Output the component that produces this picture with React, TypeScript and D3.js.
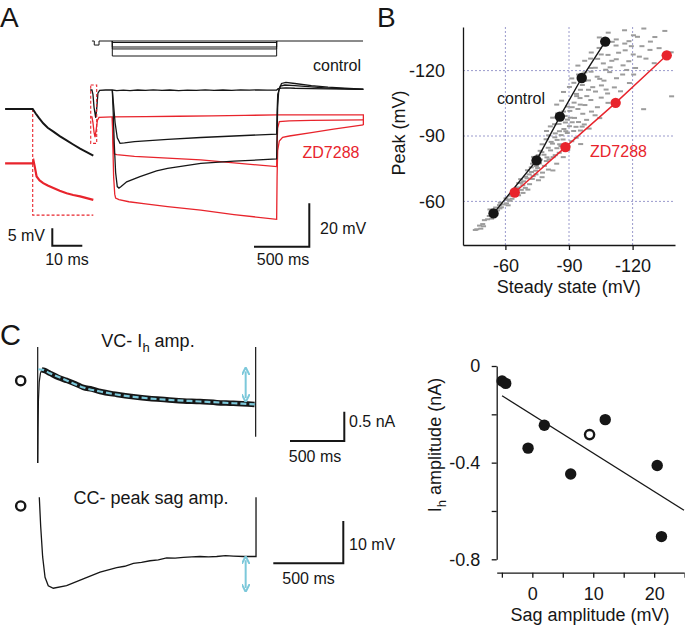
import React, { useEffect, useRef } from 'react'
import * as d3 from 'd3'

// ---------------- panel A ----------------
// command protocol: time (ms from step onset), level (relative units)
const cmdHolding = [[-184, 0], [-163, 0], [-163, -0.27], [-120, -0.27], [-120, 0], [2267, 0]]
const cmdStepLevels = [-0.1, -0.4, -0.53, -1]
const cmdStepEnd = 1486

// voltage traces: [time ms, mV]
const ctrlSmall = [[-200, -60], [-184, -60], [-175, -62], [-165, -68], [-150, -72.8], [-140, -68], [-130, -61.5], [-115, -60.2], [-60, -60], [0, -60],
  [40, -60.3], [100, -60.1], [160, -60.3], [230, -60], [300, -60.2], [370, -59.9], [450, -60.2], [520, -60], [600, -60.3], [680, -60.1],
  [760, -60.2], [840, -59.9], [920, -60.2], [1000, -60], [1080, -60.2], [1160, -59.9], [1240, -60.1], [1320, -59.9], [1400, -60.1],
  [1486, -60], [1500, -59.4], [1530, -59.1], [1570, -59.0], [1650, -59.2], [1800, -59.4], [1950, -59.5], [2100, -59.6], [2270, -59.7]]
const ctrlMid = [[0, -60], [10, -66], [25, -75], [45, -82], [70, -84.6], [110, -84.4], [200, -83.8], [500, -82.8], [800, -81.9], [1100, -81.2],
  [1486, -80.3], [1490, -70], [1496, -62], [1520, -58.2], [1560, -57.7], [1650, -58], [1800, -58.6], [1950, -59.1], [2100, -59.4], [2270, -59.7]]
const ctrlBig = [[0, -60], [8, -70], [18, -85], [30, -98], [45, -104.5], [60, -105.2], [80, -104.5], [130, -102.3], [250, -99.9], [400, -97.3],
  [500, -96.1], [800, -93.8], [1100, -92.8], [1486, -91.8], [1490, -80], [1495, -68], [1505, -60], [1530, -57], [1570, -56.5], [1650, -57],
  [1800, -58], [1950, -58.7], [2100, -59.2], [2270, -59.6]]
const zdSmall = [[-200, -72.4], [-184, -72.4], [-175, -75], [-165, -79.5], [-156, -81.7], [-145, -78], [-135, -74], [-120, -72.6], [0, -72.4],
  [300, -72.3], [600, -72.1], [900, -71.9], [1200, -71.7], [1486, -71.5], [1800, -71.5], [2270, -71.5], [2270, -76.1]]
const zdMid = [[0, -72.4], [5, -80], [15, -89.4], [40, -89.8], [200, -90.6], [500, -91.4], [800, -92.2], [1100, -93.6], [1486, -95.3],
  [1490, -85], [1495, -77.5], [1510, -74.6], [1600, -74.2], [1800, -74], [2270, -73.8]]
const zdBig = [[0, -72.4], [5, -85], [12, -100], [22, -108], [30, -109.8], [60, -110.5], [150, -111.5], [300, -112.5], [500, -113.7],
  [800, -115.4], [1100, -117.4], [1486, -119.6], [1490, -100], [1495, -88], [1510, -83.5], [1540, -81.8], [1600, -81.2], [1800, -79.6],
  [2000, -78], [2270, -76.1]]
const testPulseBox = [[-195, -57.7], [-141, -84.6]]

// expanded onset: [time ms, mV relative]
const insetCtrl = [[-9.2, 0], [0, 0], [1, -1.3], [2, -2.5], [3.5, -4.1], [5, -5.4], [6.9, -6.5], [9, -7.8], [11.3, -9], [13.5, -10.2],
  [15.8, -11.4], [18, -12.4], [20.2, -13.4]]
const insetZd = [[-9.2, -15.6], [0, -15.6], [0.3, -15], [0.6, -16.2], [1.3, -19.4], [2.3, -20.5], [3.5, -21.3], [5, -22], [6.9, -22.7],
  [9, -23.5], [11.3, -24.2], [13.5, -24.7], [15.8, -25.1], [18, -25.6], [20.2, -26.1]]
const insetBox = [[0, 0], [20.2, -30.5]]

// ---------------- panel B ----------------
const ctrlSteady = [-54.4, -74.7, -85.7, -96.0, -107.1]
const ctrlPeak = [-54.5, -78.8, -98.9, -116.6, -133.3]
const zdSteady = [-64.4, -88.3, -112.0, -136.1]
const zdPeak = [-64.1, -84.9, -105.2, -127.0]
const bTicks = [-60, -90, -120]
// pooled cells: [steady state, peak]
const pooled = [
  [-46.5, -47.2], [-47.8, -48.9], [-49.3, -49.6], [-50.1, -51.4], [-51.6, -51.8], [-52.4, -53.3], [-53.5, -52.1], [-49.7, -48.6], [-45.8, -46.9], [-48.4, -47.5],
  [-54.8, -55.6], [-56.3, -55.9], [-57.4, -56.8], [-58.1, -57.3], [-59.2, -58.6], [-60.5, -59.1], [-61.3, -58.2], [-57.6, -59.4], [-62.2, -60.3], [-52.7, -56.3], [-54.1, -53.8],
  [-62.4, -62.6], [-63.1, -61.2], [-64.3, -63.5], [-65.6, -64.1], [-66.2, -62.8], [-67.5, -65.3], [-68.3, -63.9], [-65.8, -66.4], [-69.4, -66.2], [-63.7, -65.1], [-61.2, -60.7], [-70.6, -65.4],
  [-66.3, -68.4], [-68.6, -69.2], [-70.2, -70.6], [-71.4, -67.9], [-72.7, -70.3], [-73.1, -71.6], [-69.5, -71.3], [-74.4, -72.4], [-75.6, -69.7], [-67.2, -70.2], [-77.3, -71.1],
  [-70.4, -74.3], [-72.2, -75.6], [-74.6, -76.2], [-76.1, -77.4], [-78.4, -76.3], [-80.3, -74.6], [-77.5, -73.2], [-72.8, -77.3], [-79.3, -78.5], [-82.4, -74.2], [-84.2, -77.3],
  [-73.3, -80.4], [-75.5, -81.2], [-77.2, -82.6], [-79.6, -80.2], [-81.3, -83.4], [-83.5, -81.2], [-85.4, -82.3], [-80.2, -84.6], [-76.4, -83.2], [-87.3, -80.3], [-89.4, -83.6],
  [-77.3, -86.2], [-79.2, -88.5], [-81.6, -87.3], [-83.3, -89.4], [-85.6, -86.2], [-87.2, -88.4], [-89.5, -85.3], [-91.3, -87.6], [-93.4, -89.2], [-80.4, -90.3], [-84.3, -84.4], [-95.5, -86.3],
  [-79.4, -92.3], [-81.2, -94.4], [-83.5, -91.2], [-85.3, -95.5], [-87.6, -93.2], [-89.2, -91.4], [-91.5, -96.3], [-93.3, -94.2], [-95.4, -92.5], [-97.2, -95.3], [-99.5, -93.4], [-86.2, -97.6],
  [-82.3, -98.4], [-84.6, -100.3], [-88.2, -99.2], [-90.4, -101.5], [-92.6, -98.3], [-94.2, -102.4], [-96.5, -100.2], [-98.3, -97.4], [-100.6, -101.2], [-102.3, -99.5], [-104.5, -98.2],
  [-84.2, -104.4], [-86.5, -106.2], [-89.3, -103.5], [-92.4, -105.3], [-95.2, -107.4], [-97.5, -104.2], [-100.3, -106.5], [-103.4, -103.2], [-105.2, -107.6], [-108.4, -105.2], [-93.6, -108.3],
  [-87.4, -110.2], [-90.2, -112.5], [-93.5, -109.3], [-96.3, -113.4], [-99.2, -111.2], [-102.5, -110.4], [-105.3, -113.2], [-108.2, -109.5], [-111.4, -112.3], [-125.2, -102.3], [-138.4, -108.2],
  [-91.3, -116.4], [-94.5, -118.2], [-97.2, -115.3], [-100.4, -119.5], [-103.3, -117.2], [-106.5, -115.4], [-109.2, -119.3], [-112.4, -116.5], [-115.3, -118.2], [-118.5, -114.3],
  [-94.2, -122.3], [-97.4, -124.5], [-100.3, -121.2], [-103.5, -125.4], [-106.2, -123.3], [-109.4, -121.5], [-112.3, -125.2], [-115.5, -122.4], [-118.2, -124.3], [-121.4, -121.2], [-126.3, -125.5], [-130.2, -123.4],
  [-100.5, -128.3], [-104.2, -130.4], [-108.4, -127.2], [-112.2, -131.5], [-116.5, -129.3], [-120.3, -127.4], [-124.4, -131.2], [-128.2, -129.5], [-132.5, -130.3], [-138.2, -128.4],
  [-104.3, -135.2], [-108.5, -137.4], [-112.3, -134.3], [-116.2, -138.5], [-120.4, -136.2], [-125.3, -139.3], [-130.5, -135.4], [-135.2, -138.2], [-128.4, -133.3], [-118.3, -133.5],
  [-71.2, -72.4], [-74.3, -74.1], [-76.5, -79.2], [-78.2, -81.4], [-80.6, -79.3], [-82.2, -86.5], [-84.4, -88.2], [-86.3, -90.4], [-88.5, -92.2], [-90.2, -94.5], [-82.5, -80.3], [-86.2, -85.4],
  [-88.3, -96.2], [-90.6, -98.4], [-92.2, -92.3], [-94.5, -96.4], [-96.2, -94.3], [-85.5, -92.2], [-83.2, -95.4], [-87.4, -101.2], [-89.2, -97.5], [-91.5, -103.2], [-95.3, -104.4],
  [-98.4, -108.3], [-101.2, -112.4], [-104.5, -116.2], [-107.3, -120.4], [-110.2, -124.5], [-113.4, -128.2], [-116.3, -132.4], [-99.2, -115.5], [-102.4, -121.3], [-105.2, -127.4],
  [-119.4, -131.2], [-122.3, -135.5], [-95.4, -111.2], [-92.3, -114.4], [-97.5, -119.2], [-100.2, -125.5], [-110.4, -133.2], [-114.3, -110.5], [-117.2, -120.3], [-120.5, -118.2],
  [-123.2, -126.4], [-107.5, -111.3], [-68.2, -67.4], [-65.4, -66.2], [-72.3, -73.5], [-75.2, -75.3], [-63.5, -64.2], [-60.3, -61.4], [-57.2, -58.3], [-55.4, -57.2], [-67.3, -68.5]
]

// ---------------- panel C ----------------
// VC current trace: [ms, nA]
const vcTrace = [[0, 0], [0, -1.98], [3, -1.4], [7, -0.9], [14, -0.6], [25, -0.45], [37, -0.39], [60, -0.4], [114, -0.45], [190, -0.52],
  [267, -0.57], [350, -0.63], [419, -0.69], [500, -0.72], [575, -0.76], [730, -0.81], [882, -0.85], [1030, -0.88], [1188, -0.9],
  [1340, -0.92], [1495, -0.93], [1650, -0.95], [1802, -0.96], [1997, -0.98], [2007, -0.98], [2007, 0], [2007, -1.53]]
const vcFit = [[5, -0.38], [37, -0.385], [114, -0.45], [267, -0.57], [419, -0.69], [575, -0.76], [882, -0.85], [1188, -0.9], [1495, -0.93],
  [1802, -0.96], [2000, -0.98]]
const vcArrow = [1915, -0.382, -0.906]
// CC voltage trace: [ms, mV]
const ccTrace = [[0, 0], [10, -6.9], [24, -14.1], [41, -18.9], [64, -20.9], [100, -21.5], [195, -20.9], [314, -19.3], [434, -17.7],
  [553, -16.6], [610, -16.3], [672, -15.6], [730, -15.4], [791, -15], [850, -14.8], [910, -14.3], [970, -14.4], [1029, -14.2], [1090, -14.1],
  [1148, -14], [1210, -14.1], [1267, -14], [1330, -13.8], [1386, -13.9], [1460, -14], [1541, -14], [1548, -14], [1548, 0]]
const ccArrow = [1474, -14.4, -21.9]

// sag vs Ih
const sagAmp = [-4.97, -4.37, -0.7, 1.97, 6.3, 11.97, 20.5, 21.2]
const ihAmp = [-0.062, -0.072, -0.34, -0.245, -0.447, -0.222, -0.412, -0.706]
const openSag = 9.4
const openIh = -0.284
const fitSlope = -0.01586
const fitIntercept = -0.202
const fitRange = [-4.97, 24.9]
const sagTicks = [-5, 0, 5, 10, 15, 20, 25]
const sagLabels = [0, 10, 20]
const ihTicks = [0, -0.2, -0.4, -0.6, -0.8]
const ihLabels = [0, -0.4, -0.8]

const FONT = 'Liberation Sans, Arial, Helvetica, sans-serif'
const RED = '#e8242c'
const CYAN = '#7cc8da'
const INK = '#161616'

export default function App() {
  const ref = useRef<SVGSVGElement>(null)

  useEffect(() => {
    const svg = d3.select(ref.current)
    svg.selectAll('*').remove()
    svg.style('font-family', FONT)

    const text = (x: number, y: number, s: string, size: number, anchor = 'start', color = INK) =>
      svg.append('text').attr('x', x).attr('y', y).attr('font-size', size)
        .attr('text-anchor', anchor).attr('fill', color).text(s)

    const bar = (d: string) => svg.append('path').attr('d', d)
      .attr('fill', 'none').attr('stroke', INK).attr('stroke-width', 2)

    // arrow markers
    var defs = svg.append('defs')
    defs.append('marker').attr('id', 'ah').attr('viewBox', '0 0 10 10')
      .attr('refX', 5).attr('refY', 5).attr('markerWidth', 4).attr('markerHeight', 4)
      .attr('orient', 'auto-start-reverse')
      .append('path').attr('d', 'M0,0 L10,5 L0,10').attr('fill', 'none')
      .attr('stroke', CYAN).attr('stroke-width', 2.5)

    // panel letters
    text(0, 27, 'A', 28)
    text(377, 27, 'B', 28)
    text(0, 345, 'C', 29)

    // ===== A =====
    var xA = d3.scaleLinear().domain([0, 500]).range([112.3, 167.6])
    var yA = d3.scaleLinear().domain([-60, -80]).range([90, 133.4])
    var yCmd = d3.scaleLinear().domain([0, -1]).range([41, 56])
    var xI = d3.scaleLinear().domain([0, 10]).range([32.7, 62.7])
    var yI = d3.scaleLinear().domain([0, -5]).range([109, 126.4])

    var cmdLine = d3.line<number[]>().x(d => xA(d[0])).y(d => yCmd(d[1]))
    svg.append('path').attr('d', cmdLine(cmdHolding))
      .attr('fill', 'none').attr('stroke', INK).attr('stroke-width', 1)
    cmdStepLevels.forEach(l => {
      svg.append('path').attr('d', cmdLine([[0, 0], [0, l], [cmdStepEnd, l], [cmdStepEnd, 0]]))
        .attr('fill', 'none').attr('stroke', INK).attr('stroke-width', 1)
    })

    var traceLine = d3.line<number[]>().x(d => xA(d[0])).y(d => yA(d[1]))
    ;[zdSmall, zdMid, zdBig].forEach(t => {
      svg.append('path').attr('d', traceLine(t))
        .attr('fill', 'none').attr('stroke', RED).attr('stroke-width', 1.3)
    })
    ;[ctrlSmall, ctrlMid, ctrlBig].forEach(t => {
      svg.append('path').attr('d', traceLine(t))
        .attr('fill', 'none').attr('stroke', INK).attr('stroke-width', 1.3)
    })
    svg.append('rect')
      .attr('x', xA(testPulseBox[0][0])).attr('y', yA(testPulseBox[0][1]))
      .attr('width', xA(testPulseBox[1][0]) - xA(testPulseBox[0][0]))
      .attr('height', yA(testPulseBox[1][1]) - yA(testPulseBox[0][1]))
      .attr('fill', 'none').attr('stroke', RED).attr('stroke-width', 1.1).attr('stroke-dasharray', '3,2')

    var insetLine = d3.line<number[]>().x(d => xI(d[0])).y(d => yI(d[1]))
    svg.append('path').attr('d', insetLine([[insetBox[0][0], insetBox[0][1]], [insetBox[0][0], insetBox[1][1]], [insetBox[1][0], insetBox[1][1]]]))
      .attr('fill', 'none').attr('stroke', RED).attr('stroke-width', 1.1).attr('stroke-dasharray', '3,2')
    svg.append('path').attr('d', insetLine(insetZd))
      .attr('fill', 'none').attr('stroke', RED).attr('stroke-width', 2.2)
    svg.append('path').attr('d', insetLine(insetCtrl))
      .attr('fill', 'none').attr('stroke', INK).attr('stroke-width', 2)

    text(313, 71, 'control', 16)
    text(302.5, 158, 'ZD7288', 16, 'start', RED)

    // scale bars A
    bar(`M52.3,${245.7 - (yI(-5) - yI(0))} V245.7 H${52.3 + xI(10) - xI(0)}`)
    text(45, 240.5, '5 mV', 16, 'end')
    text(67, 265, '10 ms', 16, 'middle')
    bar(`M${309.3 - (xA(500) - xA(0))},246.7 H309.3 V${246.7 - (yA(-80) - yA(-60))}`)
    text(320, 233.5, '20 mV', 16)
    text(283, 265, '500 ms', 16, 'middle')

    // ===== B =====
    var xB = d3.scaleLinear().domain([-40, -140]).range([463, 675])
    var yB = d3.scaleLinear().domain([-40, -140]).range([245, 27])

    var grid = svg.append('g').attr('stroke', '#8e8ec6').attr('stroke-width', 0.9).attr('stroke-dasharray', '2,2')
    bTicks.forEach(v => {
      grid.append('line').attr('x1', xB(v)).attr('x2', xB(v)).attr('y1', 27).attr('y2', 245)
      grid.append('line').attr('x1', 463).attr('x2', 675).attr('y1', yB(v)).attr('y2', yB(v))
    })

    svg.append('g').selectAll('rect').data(pooled).enter().append('rect')
      .attr('x', d => xB(d[0]) - 2.5).attr('y', d => yB(d[1]) - 1)
      .attr('width', 5).attr('height', 2).attr('fill', '#9c9c9c')

    var ctrlPts = ctrlSteady.map((s, i) => [xB(s), yB(ctrlPeak[i])] as [number, number])
    var zdPts = zdSteady.map((s, i) => [xB(s), yB(zdPeak[i])] as [number, number])
    svg.append('path').attr('d', d3.line()(zdPts)).attr('fill', 'none').attr('stroke', RED).attr('stroke-width', 1.4)
    svg.append('path').attr('d', d3.line()(ctrlPts)).attr('fill', 'none').attr('stroke', INK).attr('stroke-width', 1.4)
    svg.append('g').selectAll('circle').data(zdPts).enter().append('circle')
      .attr('cx', d => d[0]).attr('cy', d => d[1]).attr('r', 5.2).attr('fill', RED)
    svg.append('g').selectAll('circle').data(ctrlPts).enter().append('circle')
      .attr('cx', d => d[0]).attr('cy', d => d[1]).attr('r', 5.2).attr('fill', INK)

    var axB = svg.append('g').attr('transform', 'translate(0,245)')
      .call(d3.axisBottom(xB).tickValues(bTicks).tickSize(5).tickSizeOuter(0).tickPadding(9).tickFormat(d => `${d}`))
    var ayB = svg.append('g').attr('transform', 'translate(463,0)')
      .call(d3.axisLeft(yB).tickValues(bTicks).tickSize(0).tickSizeOuter(0).tickPadding(18).tickFormat(d => `${d}`))
    ;[axB, ayB].forEach(g => {
      g.selectAll('path,line').attr('stroke', INK).attr('stroke-width', 1.3)
      g.selectAll('text').attr('font-size', 18).attr('font-family', FONT).attr('fill', INK)
    })
    text(568.7, 293, 'Steady state (mV)', 18, 'middle')
    svg.append('text').attr('transform', 'translate(405,133) rotate(-90)')
      .attr('text-anchor', 'middle').attr('font-size', 18).attr('fill', INK).text('Peak (mV)')
    text(497, 104, 'control', 16)
    text(590, 157, 'ZD7288', 16, 'start', RED)

    // ===== C left =====
    var vcT = svg.append('text').attr('x', 148).attr('y', 346.5).attr('text-anchor', 'middle')
      .attr('font-size', 18).attr('fill', INK)
    vcT.append('tspan').text('VC- I')
    vcT.append('tspan').attr('dy', 5).attr('font-size', 13).attr('fill', INK).text('h')
    vcT.append('tspan').attr('dy', -5).text(' amp.')
    text(151, 504.3, 'CC- peak sag amp.', 18, 'middle')

    svg.append('circle').attr('cx', 20.7).attr('cy', 380.7).attr('r', 4.6)
      .attr('fill', 'none').attr('stroke', INK).attr('stroke-width', 2.4)
    svg.append('circle').attr('cx', 20.7).attr('cy', 506).attr('r', 4.6)
      .attr('fill', 'none').attr('stroke', INK).attr('stroke-width', 2.4)

    var xVC = d3.scaleLinear().domain([0, 500]).range([37.7, 92])
    var yVC = d3.scaleLinear().domain([0, -1]).range([347, 405.6])
    var vcLine = d3.line<number[]>().x(d => xVC(d[0])).y(d => yVC(d[1]))
    svg.append('path').attr('d', vcLine(vcTrace.slice(0, 2))).attr('stroke', INK).attr('stroke-width', 1.2).attr('fill', 'none')
    svg.append('path').attr('d', vcLine(vcTrace.slice(-2))).attr('stroke', INK).attr('stroke-width', 1.2).attr('fill', 'none')
    svg.append('path').attr('d', vcLine(vcTrace.slice(1, -2)))
      .attr('stroke', INK).attr('stroke-width', 1.2).attr('fill', 'none')
    svg.append('path').attr('d', vcLine.curve(d3.curveMonotoneX)(vcTrace.slice(6, -3)))
      .attr('stroke', INK).attr('stroke-width', 5.5).attr('fill', 'none')
    svg.append('path').attr('d', vcLine.curve(d3.curveMonotoneX)(vcFit))
      .attr('stroke', CYAN).attr('stroke-width', 2.2).attr('fill', 'none').attr('stroke-dasharray', '6,3')
    svg.append('line').attr('x1', xVC(vcArrow[0])).attr('x2', xVC(vcArrow[0]))
      .attr('y1', yVC(vcArrow[1]) + 2).attr('y2', yVC(vcArrow[2]) - 2)
      .attr('stroke', CYAN).attr('stroke-width', 2)
      .attr('marker-start', 'url(#ah)').attr('marker-end', 'url(#ah)')

    bar(`M290,441 H${290 + xVC(500) - xVC(0)} V${441 - (yVC(-0.5) - yVC(0))}`)
    text(349, 426.5, '0.5 nA', 16)
    text(315, 461.5, '500 ms', 16, 'middle')

    var xCC = d3.scaleLinear().domain([0, 500]).range([39.3, 109.3])
    var yCC = d3.scaleLinear().domain([0, -10]).range([497.3, 539.6])
    var ccLine = d3.line<number[]>().x(d => xCC(d[0])).y(d => yCC(d[1]))
    svg.append('path').attr('d', ccLine(ccTrace))
      .attr('stroke', INK).attr('stroke-width', 1.3).attr('fill', 'none')
    svg.append('line').attr('x1', xCC(ccArrow[0])).attr('x2', xCC(ccArrow[0]))
      .attr('y1', yCC(ccArrow[1]) + 2).attr('y2', yCC(ccArrow[2]) - 2)
      .attr('stroke', CYAN).attr('stroke-width', 2)
      .attr('marker-start', 'url(#ah)').attr('marker-end', 'url(#ah)')

    bar(`M273.3,563.3 H${273.3 + xCC(500) - xCC(0)} V${563.3 - (yCC(-10) - yCC(0))}`)
    text(349, 550, '10 mV', 16)
    text(308.5, 584, '500 ms', 16, 'middle')

    // ===== C right =====
    var xC = d3.scaleLinear().domain([-5.85, 24.9]).range([496.7, 684])
    var yC = d3.scaleLinear().domain([0, -0.8]).range([366, 559.3])

    svg.append('line')
      .attr('x1', xC(fitRange[0])).attr('y1', yC(fitIntercept + fitSlope * fitRange[0]))
      .attr('x2', xC(fitRange[1])).attr('y2', yC(fitIntercept + fitSlope * fitRange[1]))
      .attr('stroke', INK).attr('stroke-width', 1.3)
    svg.append('g').selectAll('circle').data(sagAmp).enter().append('circle')
      .attr('cx', d => xC(d)).attr('cy', (d, i) => yC(ihAmp[i])).attr('r', 5.7).attr('fill', INK)
    svg.append('circle').attr('cx', xC(openSag)).attr('cy', yC(openIh)).attr('r', 4.6)
      .attr('fill', '#fff').attr('stroke', INK).attr('stroke-width', 2.4)

    var axC = svg.append('g').attr('transform', 'translate(0,572.7)')
      .call(d3.axisBottom(xC).tickValues(sagTicks).tickSize(5).tickSizeOuter(0).tickPadding(9.5)
        .tickFormat(d => sagLabels.includes(+d) ? `${d}` : ''))
    var ayC = svg.append('g').attr('transform', 'translate(496.7,0)')
      .call(d3.axisLeft(yC).tickValues(ihTicks).tickSize(5).tickSizeOuter(0).tickPadding(11.5)
        .tickFormat(d => ihLabels.includes(+d) ? `${d}` : ''))
    ;[axC, ayC].forEach(g => {
      g.selectAll('path,line').attr('stroke', INK).attr('stroke-width', 1.3)
      g.selectAll('text').attr('font-size', 18).attr('font-family', FONT).attr('fill', INK)
    })
    text(590, 621, 'Sag amplitude (mV)', 18, 'middle')
    var yl = svg.append('text').attr('transform', 'translate(441,445) rotate(-90)')
      .attr('text-anchor', 'middle').attr('font-size', 18).attr('fill', INK)
    yl.append('tspan').text('I')
    yl.append('tspan').attr('dy', 5).attr('font-size', 13).text('h')
    yl.append('tspan').attr('dy', -5).text(' amplitude (nA)')
  }, [])

  return (
    <svg ref={ref} width={685} height={627}
      style={{ position: 'absolute', left: 0, top: 0, background: '#fff' }} />
  )
}
